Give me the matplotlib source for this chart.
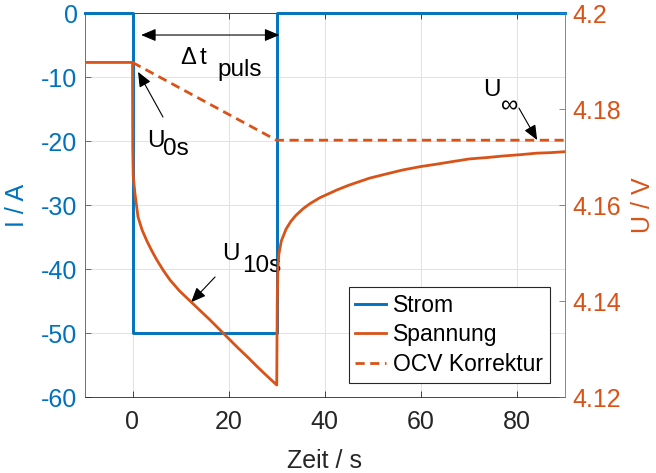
import matplotlib
matplotlib.use("Agg")
import matplotlib.pyplot as plt

plt.rcParams['font.family'] = ['Liberation Sans', 'DejaVu Sans']
plt.rcParams['axes.unicode_minus'] = False

BLUE = '#0072BD'
ORANGE = '#D95319'
DARK = '#262626'

# ---- data ----
t_strom = [-10, 0, 0, 30, 30, 90]
strom = [0, 0, -50, -50, 0, 0]

t_spannung = [-10, -0.05, 0, 0.05, 0.15, 0.5, 1.15, 2, 3, 4, 5.1, 6.4, 7.8, 9.8, 12,
              14, 16, 18, 20, 22, 24, 26, 28, 30.05,
              30.15, 30.3, 30.5, 31, 32, 33, 34, 35.5, 37, 39, 42.5, 45, 49.4, 53,
              56.3, 60, 63.3, 67, 70.2, 74, 77.1, 81, 84.2, 87, 90]
spannung = [4.1897, 4.1897, 4.1897, 4.1720, 4.1660, 4.1625, 4.1575, 4.1548, 4.1525,
            4.1505, 4.1485, 4.1464, 4.1444, 4.1421, 4.1400,
            4.1381, 4.1362, 4.1342, 4.1322, 4.1302, 4.1283, 4.1263, 4.1244, 4.1225,
            4.1400, 4.1470, 4.1498, 4.1525, 4.1550, 4.1566, 4.1578, 4.1592, 4.1603,
            4.1615, 4.1631, 4.1641, 4.1656, 4.1665, 4.1673, 4.1680, 4.1685, 4.1691,
            4.1696, 4.1699, 4.1702, 4.1705, 4.1708, 4.1709, 4.1711]

t_ocv = [0, 30, 90]
ocv = [4.1897, 4.1735, 4.1735]

x_ticks = [0, 20, 40, 60, 80]
i_ticks = [0, -10, -20, -30, -40, -50, -60]
u_ticks = [4.12, 4.14, 4.16, 4.18, 4.2]
u_ticklabels = ['4.12', '4.14', '4.16', '4.18', '4.2']

fig = plt.figure(figsize=(6.56, 4.73), dpi=100)
ax = fig.add_axes([84.5 / 656, 76 / 473, 480 / 656, 384 / 473])
ax2 = ax.twinx()

l1, = ax.plot(t_strom, strom, color=BLUE, lw=2.1, clip_on=False, zorder=3)
l2, = ax2.plot(t_spannung, spannung, color=ORANGE, lw=2.0, zorder=3)
l3, = ax2.plot(t_ocv, ocv, color=ORANGE, lw=2.0, ls=(0, (3.3, 2.0)), zorder=3)

ax.set_xlim(-10, 90)
ax.set_ylim(-60, 0)
ax2.set_ylim(4.12, 4.2)

ax.set_xticks(x_ticks)
ax.set_yticks(i_ticks)
ax2.set_yticks(u_ticks)
ax2.set_yticklabels(u_ticklabels)

ax.grid(True, color='#dfe2e6', lw=0.7)
ax.set_axisbelow(True)

fs_tick = 18
ax.tick_params(axis='x', direction='in', length=4.5, width=0.6, colors=DARK,
               labelsize=fs_tick, pad=9, top=True)
ax.tick_params(axis='y', direction='in', length=4.5, width=0.6, colors=BLUE,
               labelsize=fs_tick, pad=5)
ax2.tick_params(axis='y', direction='in', length=4.5, width=0.6, colors=ORANGE,
                labelsize=fs_tick, pad=6)
for s in ['bottom', 'top']:
    ax.spines[s].set_color(DARK)
    ax.spines[s].set_linewidth(0.6)
ax.spines['left'].set_color(BLUE)
ax.spines['left'].set_linewidth(0.6)
ax2.spines['right'].set_color(ORANGE)
ax2.spines['right'].set_linewidth(0.6)
ax2.spines['left'].set_visible(False)
ax2.spines['top'].set_visible(False)
ax2.spines['bottom'].set_visible(False)
ax.spines['right'].set_visible(False)

ax.set_xlabel('Zeit / s', fontsize=18, color=DARK, labelpad=11)
ax.set_ylabel('I / A', fontsize=18, color=BLUE, labelpad=9)
ax2.set_ylabel('U / V', fontsize=18, color=ORANGE, labelpad=7)

leg = ax2.legend([l1, l2, l3], ['Strom', 'Spannung', 'OCV Korrektur'],
                 loc='lower right', bbox_to_anchor=(0.97, 0.036),
                 fontsize=16.5, frameon=True, fancybox=False, framealpha=1,
                 edgecolor=DARK, handlelength=1.35, handletextpad=0.3,
                 labelspacing=0.3, borderpad=0.3, borderaxespad=0)
leg.get_frame().set_linewidth(0.8)
for t in leg.get_texts():
    t.set_color('black')

# ---- annotations (left-axis data coordinates) ----
arrow_kw = dict(arrowstyle='-|>,head_length=0.9,head_width=0.38', lw=0.8,
                color='black', mutation_scale=10, shrinkA=0, shrinkB=0)
ax.annotate('', xy=(1.15, -9.2), xytext=(6.35, -16.25), arrowprops=arrow_kw, zorder=5)
ax.annotate('', xy=(12.2, -45.2), xytext=(17.2, -41.25), arrowprops=arrow_kw, zorder=5)
ax.annotate('', xy=(84.3, -19.85), xytext=(80.5, -14.85), arrowprops=arrow_kw, zorder=5)
dbl_kw = dict(arrow_kw)
dbl_kw['arrowstyle'] = '<|-|>,head_length=0.9,head_width=0.38'
ax.annotate('', xy=(30.6, -3.44), xytext=(1.8, -3.44), arrowprops=dbl_kw, zorder=5)

fs_ann = 17.5
tk = dict(ha='left', va='baseline', color='black', zorder=6)
ax.text(3.0, -20.9, 'U', fontsize=fs_ann, **tk)
ax.text(6.35, -22.2, '0s', fontsize=fs_ann, **tk)
ax.text(18.65, -38.6, 'U', fontsize=fs_ann, **tk)
ax.text(22.8, -40.5, '10s', fontsize=fs_ann, **tk)
ax.text(73.0, -13.0, 'U', fontsize=fs_ann, **tk)
ax.text(76.8, -15.6, '∞', fontsize=fs_ann, **tk)
ax.text(10.0, -8.0, 'Δ', fontsize=17, **tk)
ax.text(13.9, -8.0, 't', fontsize=fs_ann, **tk)
ax.text(17.6, -9.85, 'puls', fontsize=fs_ann, **tk)

fig.savefig('out.png', dpi=100)
